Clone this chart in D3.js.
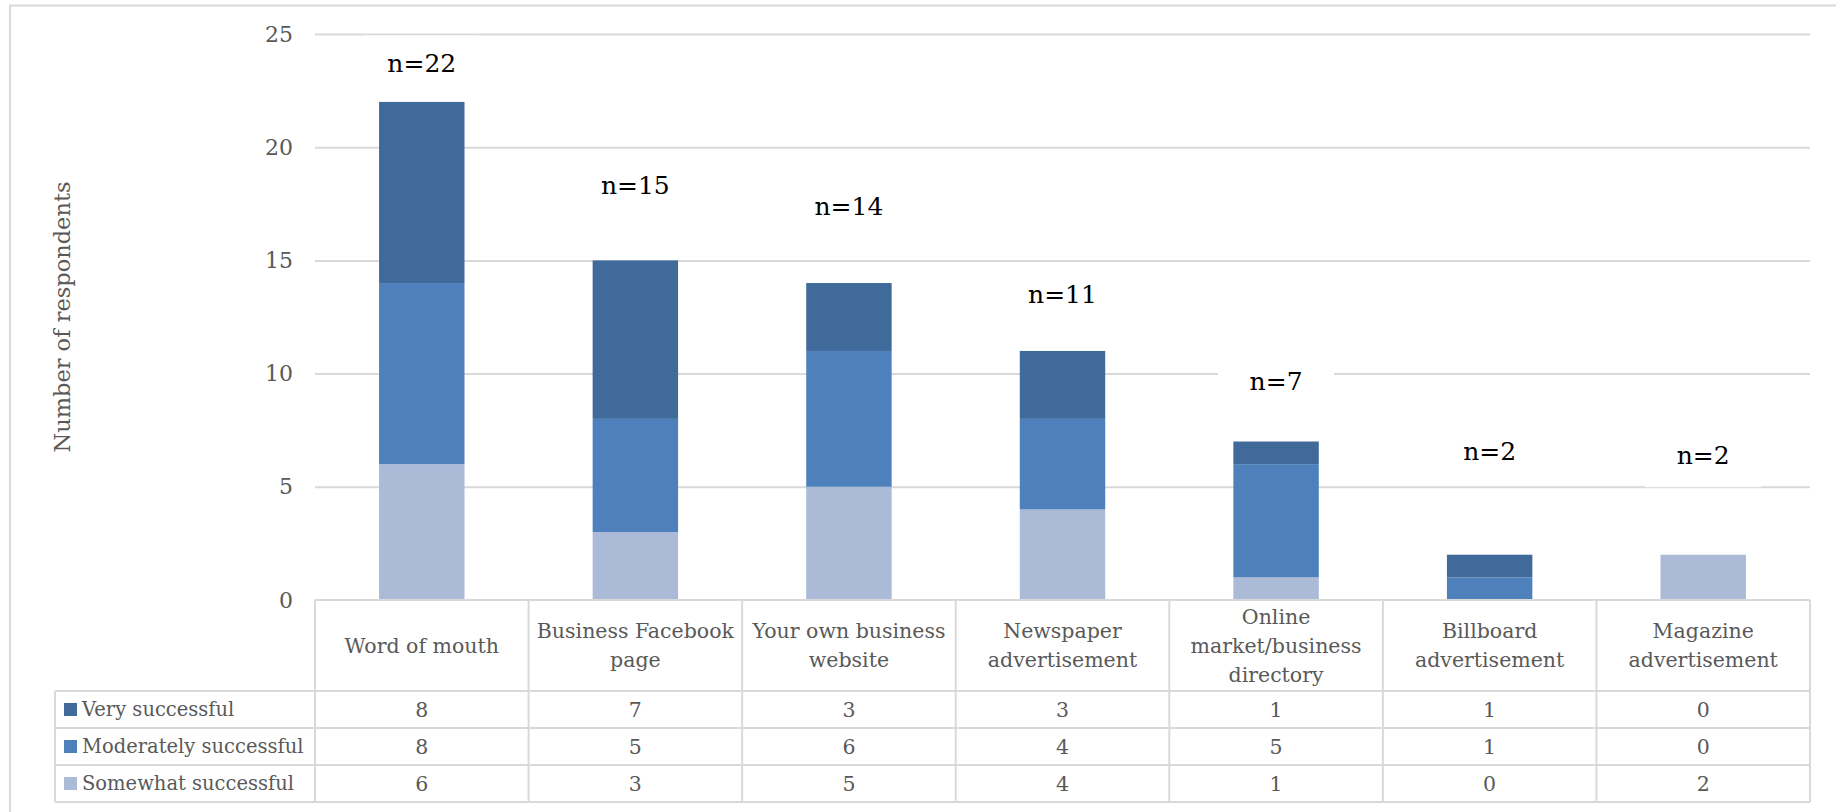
<!DOCTYPE html>
<html>
<head>
<meta charset="utf-8">
<script src="https://cdn.jsdelivr.net/npm/d3@7"></script>
<style>
  html, body { margin: 0; padding: 0; background: #ffffff; }
  svg { display: block; }
  text { font-family: "DejaVu Serif", "Liberation Serif", serif; }
</style>
</head>
<body>
<svg id="chart" width="1836" height="812"></svg>
<script>
// Marketing channels (each label line is drawn as its own row in the table header)
const categoryLines = [
  ["Word of mouth"],
  ["Business Facebook", "page"],
  ["Your own business", "website"],
  ["Newspaper", "advertisement"],
  ["Online", "market/business", "directory"],
  ["Billboard", "advertisement"],
  ["Magazine", "advertisement"]
];
const categories = categoryLines.map(l => l.join(" "));

// Responses per channel
const verySuccessful       = [8, 7, 3, 3, 1, 1, 0];
const moderatelySuccessful = [8, 5, 6, 4, 5, 1, 0];
const somewhatSuccessful   = [6, 3, 5, 4, 1, 0, 2];

const seriesNames = ["Very successful", "Moderately successful", "Somewhat successful"];
const yTicks = [0, 5, 10, 15, 20, 25];

// Where each "n=" callout sits, in axis units
const calloutLevel = [23.7, 18.3, 17.4, 13.5, 9.65, 6.55, 6.4];

// ---- layout ----
const W = 1836, H = 812;
const plotLeft = 315, plotRight = 1810;
const plotTop = 34, plotBottom = 600;
const headerBottom = 691, rowH = 37;
const legendLeft = 55;
const gridColor = "#d9d9d9";
const textColor = "#595959";
const tableFont = "20.5px";
const legendFont = "19.5px";
const colors = {
  "Very successful": "#3f6a9a",
  "Moderately successful": "#4e80bc",
  "Somewhat successful": "#aabad7"
};

const svg = d3.select("#chart");
svg.append("rect").attr("width", W).attr("height", H).attr("fill", "#fff");

// outer frame of the chart object
svg.append("path")
  .attr("d", `M10,${H} L10,5.5 L${W},5.5`)
  .attr("fill", "none").attr("stroke", gridColor).attr("stroke-width", 2);

const x = d3.scaleBand().domain(categories).range([plotLeft, plotRight]).paddingInner(0.6).paddingOuter(0.3);
const cell = d3.scaleBand().domain(categories).range([plotLeft, plotRight]);
const y = d3.scaleLinear().domain([0, 25]).range([plotBottom, plotTop]);

// gridlines
svg.append("g")
  .attr("transform", `translate(${plotLeft},0)`)
  .call(d3.axisLeft(y).tickValues(yTicks.filter(t => t > 0)).tickSize(-(plotRight - plotLeft)).tickFormat(""))
  .call(g => g.select(".domain").remove())
  .call(g => g.selectAll("line").attr("stroke", gridColor).attr("stroke-width", 2));

// tick labels
svg.append("g")
  .attr("transform", `translate(293,0)`)
  .call(d3.axisLeft(y).tickValues(yTicks).tickSize(0).tickPadding(0))
  .call(g => g.select(".domain").remove())
  .call(g => g.selectAll("text")
    .attr("fill", textColor)
    .style("font-family", "'DejaVu Serif', serif")
    .style("font-size", "22px"));

// axis title
svg.append("text")
  .attr("transform", `translate(62,${(plotTop + plotBottom) / 2}) rotate(-90)`)
  .attr("text-anchor", "middle")
  .attr("dominant-baseline", "central")
  .attr("fill", textColor)
  .style("font-size", "22.5px")
  .text("Number of respondents");

// stacked bars
const rows = categories.map((c, i) => ({
  category: c,
  "Very successful": verySuccessful[i],
  "Moderately successful": moderatelySuccessful[i],
  "Somewhat successful": somewhatSuccessful[i]
}));
const stacked = d3.stack().keys(["Somewhat successful", "Moderately successful", "Very successful"])(rows);

svg.append("g").selectAll("g")
  .data(stacked)
  .join("g")
  .attr("fill", d => colors[d.key])
  .selectAll("rect")
  .data(d => d)
  .join("rect")
  .attr("x", d => x(d.data.category))
  .attr("width", x.bandwidth())
  .attr("y", d => y(d[1]))
  .attr("height", d => y(d[0]) - y(d[1]));

// "n=" callouts with white boxes
const totals = categories.map((c, i) => verySuccessful[i] + moderatelySuccessful[i] + somewhatSuccessful[i]);
const callouts = svg.append("g").selectAll("g")
  .data(categories)
  .join("g")
  .attr("transform", (c, i) => `translate(${cell(c) + cell.bandwidth() / 2},${y(calloutLevel[i])})`);
callouts.append("rect")
  .attr("x", -58).attr("y", -28).attr("width", 116).attr("height", 60)
  .attr("fill", "#fff");
callouts.append("text")
  .attr("text-anchor", "middle")
  .attr("dominant-baseline", "central")
  .attr("fill", "#000")
  .style("font-size", "25px")
  .text((c, i) => `n=${totals[i]}`);

// ---- data table ----
const table = svg.append("g");
const tableBottom = headerBottom + rowH * seriesNames.length;
const line = (x1, y1, x2, y2) => table.append("line")
  .attr("x1", x1).attr("y1", y1).attr("x2", x2).attr("y2", y2)
  .attr("stroke", gridColor).attr("stroke-width", 2);

line(plotLeft, plotBottom, plotRight, plotBottom);
line(legendLeft, headerBottom, plotRight, headerBottom);
seriesNames.forEach((s, r) => line(legendLeft, headerBottom + rowH * (r + 1), plotRight, headerBottom + rowH * (r + 1)));
line(legendLeft, headerBottom, legendLeft, tableBottom);
categories.forEach(c => line(cell(c), plotBottom, cell(c), tableBottom));
line(plotRight, plotBottom, plotRight, tableBottom);

// header labels
const headerMid = (plotBottom + headerBottom) / 2;
const lineH = 29;
categories.forEach((c, i) => {
  const lines = categoryLines[i];
  const t = table.append("text")
    .attr("text-anchor", "middle")
    .attr("fill", textColor)
    .style("font-size", tableFont);
  lines.forEach((l, k) => {
    t.append("tspan")
      .attr("x", cell(c) + cell.bandwidth() / 2)
      .attr("y", headerMid + (k - (lines.length - 1) / 2) * lineH)
      .attr("dy", "0.35em")
      .text(l);
  });
});

// value rows with legend keys
const seriesValues = [verySuccessful, moderatelySuccessful, somewhatSuccessful];
seriesNames.forEach((s, r) => {
  const cy = headerBottom + rowH * r + rowH / 2;
  table.append("rect")
    .attr("x", 64).attr("y", cy - 6.5).attr("width", 13).attr("height", 13)
    .attr("fill", colors[s]);
  table.append("text")
    .attr("x", 82).attr("y", cy).attr("dy", "0.35em")
    .attr("fill", textColor)
    .style("font-size", legendFont)
    .text(s);
  categories.forEach((c, i) => {
    table.append("text")
      .attr("x", cell(c) + cell.bandwidth() / 2).attr("y", cy).attr("dy", "0.35em")
      .attr("text-anchor", "middle")
      .attr("fill", textColor)
      .style("font-size", tableFont)
      .text(seriesValues[r][i]);
  });
});
</script>
</body>
</html>
